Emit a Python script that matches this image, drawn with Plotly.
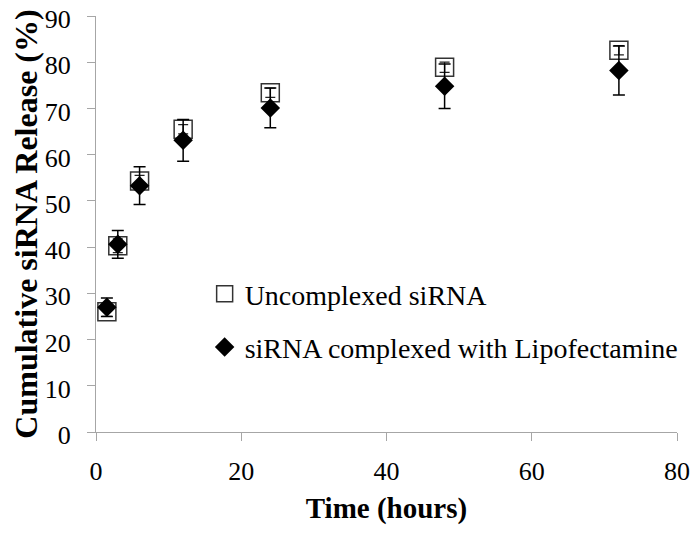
import plotly.graph_objects as go

time_hours = [1.5, 3, 6, 12, 24, 48, 72]
uncomplexed = [26.0, 40.3, 54.3, 65.5, 73.4, 78.9, 82.6]
uncomplexed_err = [1.0, 1.5, 1.2, 1.0, 1.0, 1.1, 1.0]
lipofectamine = [27.0, 40.6, 53.3, 63.1, 70.1, 74.8, 78.2]
lipofectamine_err = [2.0, 3.0, 4.1, 4.5, 4.3, 4.8, 5.3]

x_ticks = [0, 20, 40, 60, 80]
y_ticks = [0, 10, 20, 30, 40, 50, 60, 70, 80, 90]

FONT = "Liberation Serif"
AXIS_GREY = "#a6a6a6"

fig = go.Figure()
fig.add_trace(go.Scatter(
    x=time_hours, y=uncomplexed, mode="markers", name="Uncomplexed siRNA",
    legendgroup="a",
    marker=dict(symbol="square-open", size=18, color="#333333", line=dict(width=1.5, color="#333333")),
    error_y=dict(type="data", array=uncomplexed_err, visible=True, color="#222222", thickness=1.2, width=5),
))
fig.add_trace(go.Scatter(
    x=time_hours, y=lipofectamine, mode="markers", name="siRNA complexed with Lipofectamine",
    legendgroup="b",
    marker=dict(symbol="diamond", size=15, color="black"),
    error_y=dict(type="data", array=lipofectamine_err, visible=True, color="black", thickness=1.5, width=6),
))

# the page body adds an 8px offset, so the figure is 8px smaller each way
fig.update_layout(
    width=691, height=528,
    margin=dict(l=88, r=22, t=8, b=104),
    paper_bgcolor="white", plot_bgcolor="white",
    font=dict(family=FONT, color="black", size=26),
    legend=dict(
        x=0.187, y=0.392, xanchor="left", yanchor="top",
        font=dict(family=FONT, size=28, color="black"),
        bgcolor="rgba(0,0,0,0)", tracegroupgap=14,
    ),
    xaxis=dict(
        range=[0, 80], tickmode="array", tickvals=x_ticks, ticktext=[str(v) for v in x_ticks],
        showgrid=False, zeroline=False, automargin=False, ticklabeloverflow="allow",
        showline=True, linecolor=AXIS_GREY, linewidth=1,
        ticks="outside", ticklen=8, tickcolor=AXIS_GREY, ticklabelstandoff=8,
        tickfont=dict(family=FONT, size=26, color="black"),
        title=dict(text="<b>Time (hours)</b>", font=dict(family=FONT, size=29, color="black"), standoff=12),
    ),
    yaxis=dict(
        range=[0, 90], tickmode="array", tickvals=y_ticks, ticktext=[str(v) for v in y_ticks],
        showgrid=False, zeroline=False, automargin=False, ticklabeloverflow="allow",
        showline=True, linecolor=AXIS_GREY, linewidth=1,
        ticks="outside", ticklen=8, tickcolor=AXIS_GREY, ticklabelstandoff=11, ticklabelshift=3,
        tickfont=dict(family=FONT, size=26, color="black"),
        title=dict(text="<b>Cumulative siRNA Release (%)</b>", font=dict(family=FONT, size=32, color="black"), standoff=4),
    ),
)

fig.write_html("out.html")
